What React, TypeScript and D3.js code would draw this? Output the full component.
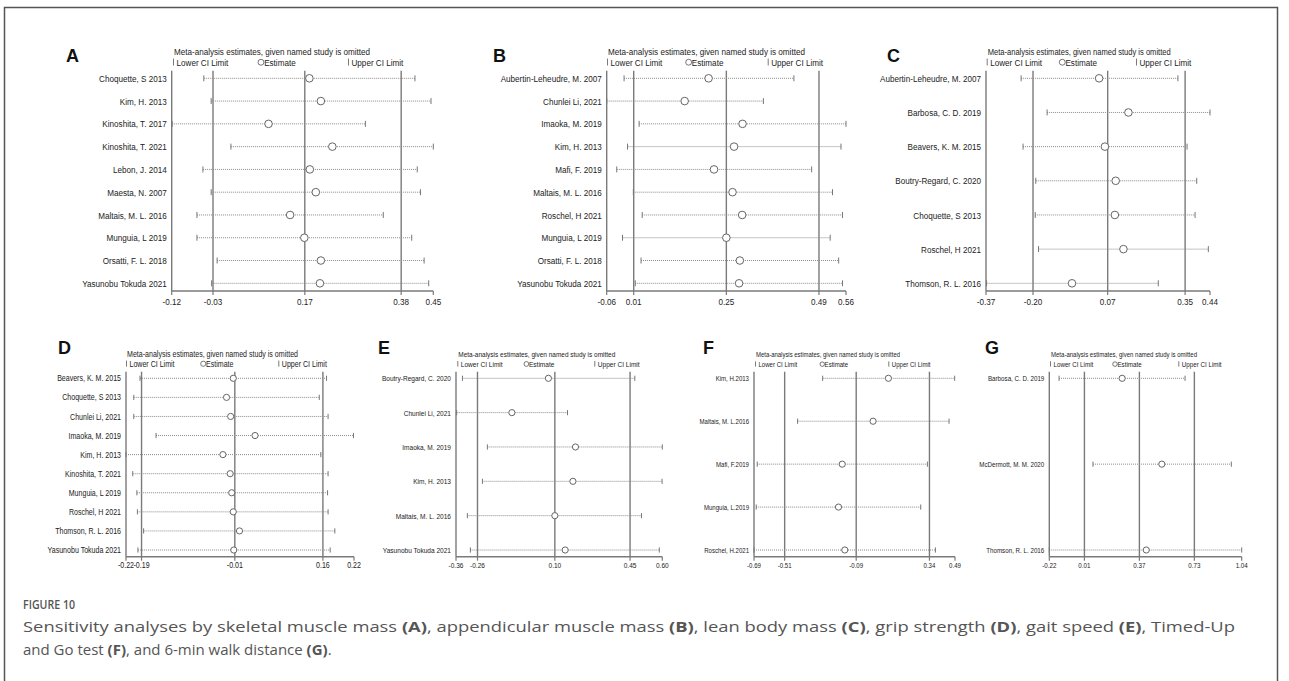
import React from "react";
import * as d3 from "d3";

// ---------- DATA ----------
const A_STUDIES = ["Choquette, S 2013", "Kim, H. 2013", "Kinoshita, T. 2017", "Kinoshita, T. 2021", "Lebon, J. 2014", "Maesta, N. 2007", "Maltais, M. L. 2016", "Munguia, L 2019", "Orsatti, F. L. 2018", "Yasunobu Tokuda 2021"];
const A_LOWER = [-0.05, -0.034, -0.119, 0.009, -0.052, -0.034, -0.065, -0.065, -0.021, -0.033];
const A_EST = [0.18, 0.205, 0.091, 0.23, 0.181, 0.194, 0.138, 0.169, 0.205, 0.203];
const A_UPPER = [0.41, 0.445, 0.302, 0.45, 0.415, 0.422, 0.341, 0.403, 0.43, 0.44];
const A_TICKS = [-0.12, -0.03, 0.17, 0.38, 0.45];

const B_STUDIES = ["Aubertin-Leheudre, M. 2007", "Chunlei Li, 2021", "Imaoka, M. 2019", "Kim, H. 2013", "Mafi, F. 2019", "Maltais, M. L. 2016", "Roschel, H 2021", "Munguia, L 2019", "Orsatti, F. L. 2018", "Yasunobu Tokuda 2021"];
const B_LOWER = [-0.015, -0.06, 0.024, -0.006, -0.034, 0.009, 0.032, -0.019, 0.029, 0.014];
const B_EST = [0.204, 0.142, 0.292, 0.27, 0.218, 0.266, 0.291, 0.25, 0.285, 0.283];
const B_UPPER = [0.425, 0.346, 0.56, 0.547, 0.471, 0.525, 0.551, 0.519, 0.541, 0.551];
const B_TICKS = [-0.06, 0.01, 0.25, 0.49, 0.56];

const C_STUDIES = ["Aubertin-Leheudre, M. 2007", "Barbosa, C. D. 2019", "Beavers, K. M. 2015", "Boutry-Regard, C. 2020", "Choquette, S 2013", "Roschel, H 2021", "Thomson, R. L. 2016"];
const C_LOWER = [-0.243, -0.149, -0.236, -0.19, -0.192, -0.18, -0.368];
const C_EST = [0.039, 0.145, 0.06, 0.099, 0.096, 0.127, -0.059];
const C_UPPER = [0.324, 0.44, 0.357, 0.392, 0.386, 0.434, 0.253];
const C_TICKS = [-0.37, -0.2, 0.07, 0.35, 0.44];

const D_STUDIES = ["Beavers, K. M. 2015", "Choquette, S 2013", "Chunlei Li, 2021", "Imaoka, M. 2019", "Kim, H. 2013", "Kinoshita, T. 2021", "Munguia, L 2019", "Roschel, H 2021", "Thomson, R. L. 2016", "Yasunobu Tokuda 2021"];
const D_LOWER = [-0.193, -0.205, -0.205, -0.162, -0.22, -0.207, -0.199, -0.198, -0.186, -0.197];
const D_EST = [-0.013, -0.026, -0.018, 0.029, -0.033, -0.019, -0.016, -0.013, -0.001, -0.012];
const D_UPPER = [0.167, 0.153, 0.17, 0.219, 0.156, 0.17, 0.169, 0.17, 0.183, 0.174];
const D_TICKS = [-0.22, -0.19, -0.01, 0.16, 0.22];

const E_STUDIES = ["Boutry-Regard, C. 2020", "Chunlei Li, 2021", "Imaoka, M. 2019", "Kim, H. 2013", "Maltais, M. L. 2016", "Yasunobu Tokuda 2021"];
const E_LOWER = [-0.33, -0.357, -0.214, -0.237, -0.307, -0.293];
const E_EST = [0.07, -0.1, 0.196, 0.184, 0.1, 0.148];
const E_UPPER = [0.472, 0.159, 0.6, 0.599, 0.503, 0.586];
const E_TICKS = [-0.36, -0.26, 0.1, 0.45, 0.6];

const F_STUDIES = ["Kim, H.2013", "Maltais, M. L.2016", "Mafi, F.2019", "Munguia, L.2019", "Roschel, H.2021"];
const F_LOWER = [-0.287, -0.434, -0.671, -0.677, -0.69];
const F_EST = [0.099, 0.009, -0.172, -0.194, -0.157];
const F_UPPER = [0.488, 0.455, 0.328, 0.289, 0.375];
const F_TICKS = [-0.69, -0.51, -0.09, 0.34, 0.49];

const G_STUDIES = ["Barbosa, C. D. 2019", "McDermott, M. M. 2020", "Thomson, R. L. 2016"];
const G_LOWER = [-0.156, 0.066, -0.22];
const G_EST = [0.257, 0.517, 0.415];
const G_UPPER = [0.669, 0.972, 1.04];
const G_TICKS = [-0.22, 0.01, 0.37, 0.73, 1.04];

const TITLE = "Meta-analysis estimates, given named study is omitted";
const CAPTION_HEAD = "FIGURE 10";

// ---------- LAYOUT ----------
const TOP = { rowTop: 78.3, rowBottom: 283.3, axisY: 291, lineTop: 70.7, letterY: 62, titleY: 55, legendY: 65.5, tickY: 305, cap: 3, r: 3.8 };
const BOT = { rowTop: 378.3, rowBottom: 550, axisY: 556.7, lineTop: 371.7, letterY: 354, titleY: 357.2, legendY: 366.6, tickY: 568, cap: 2.6, r: 3.1 };

const PANELS = [
  { letter: "A", studies: A_STUDIES, lower: A_LOWER, est: A_EST, upper: A_UPPER, ticks: A_TICKS, g: TOP, x0: 171.7, x1: 433.3, lx: 66, titleW: 196, leg: [173, 258, 348], fs: 9.9 },
  { letter: "B", studies: B_STUDIES, lower: B_LOWER, est: B_EST, upper: B_UPPER, ticks: B_TICKS, g: TOP, x0: 606.7, x1: 846, lx: 493, titleW: 197, leg: [607, 685.7, 767.7], fs: 9.9 },
  { letter: "C", studies: C_STUDIES, lower: C_LOWER, est: C_EST, upper: C_UPPER, ticks: C_TICKS, g: TOP, x0: 986, x1: 1210, lx: 887, titleW: 183, leg: [986.7, 1059.3, 1136], fs: 9.9 },
  { letter: "D", studies: D_STUDIES, lower: D_LOWER, est: D_EST, upper: D_UPPER, ticks: D_TICKS, g: BOT, x0: 126, x1: 354, lx: 58, titleW: 171, leg: [126, 200.7, 278.3], fs: 8.6 },
  { letter: "E", studies: E_STUDIES, lower: E_LOWER, est: E_EST, upper: E_UPPER, ticks: E_TICKS, g: BOT, x0: 456, x1: 662.3, lx: 378, titleW: 157, leg: [457.3, 524, 594.3], fs: 8.0 },
  { letter: "F", studies: F_STUDIES, lower: F_LOWER, est: F_EST, upper: F_UPPER, ticks: F_TICKS, g: BOT, x0: 754, x1: 955, lx: 703, titleW: 144, leg: [755, 820, 888.3], fs: 7.4 },
  { letter: "G", studies: G_STUDIES, lower: G_LOWER, est: G_EST, upper: G_UPPER, ticks: G_TICKS, g: BOT, x0: 1049.3, x1: 1241.7, lx: 985, titleW: 146, leg: [1050, 1112.7, 1178.3], fs: 7.6 },
];

const SANS = "'Liberation Sans', Arial, sans-serif";
const SX = 0.82; // condensed look of the original figure font
const LINE = "#7a7a7a";
const TXT = "#222";

function NT({ x, y, fs, anchor, children }: { x: number; y: number; fs: number; anchor?: string; children: any }) {
  return (
    <text transform={`translate(${x},${y}) scale(${SX},1)`} textAnchor={anchor || "start"} fontFamily={SANS} fontSize={fs} fill={TXT}>
      {children}
    </text>
  );
}

function Panel({ p }: { p: any }) {
  const g = p.g;
  const x = d3.scaleLinear().domain([p.ticks[0], p.ticks[p.ticks.length - 1]]).range([p.x0, p.x1]);
  const y = d3.scalePoint<string>().domain(p.studies).range([g.rowTop, g.rowBottom]);
  const fs = p.fs;
  return (
    <g>
      <text x={p.lx} y={g.letterY} fontFamily={SANS} fontWeight="bold" fontSize={18} fill="#111">{p.letter}</text>
      <text x={p.leg[0] + 1} y={g.titleY} fontFamily={SANS} fontSize={fs} fill={TXT} textLength={p.titleW} lengthAdjust="spacingAndGlyphs">{TITLE}</text>
      {/* legend */}
      <line x1={p.leg[0] + 0.5} x2={p.leg[0] + 0.5} y1={g.legendY - fs * 0.7} y2={g.legendY} stroke={LINE} strokeWidth={1} />
      <NT x={p.leg[0] + 3.5} y={g.legendY} fs={fs}>Lower CI Limit</NT>
      <circle cx={p.leg[1] + fs * 0.3} cy={g.legendY - fs * 0.33} r={fs * 0.3} fill="none" stroke="#555" strokeWidth={0.8} />
      <NT x={p.leg[1] + fs * 0.62} y={g.legendY} fs={fs}>Estimate</NT>
      <line x1={p.leg[2] + 0.5} x2={p.leg[2] + 0.5} y1={g.legendY - fs * 0.7} y2={g.legendY} stroke={LINE} strokeWidth={1} />
      <NT x={p.leg[2] + 3.5} y={g.legendY} fs={fs}>Upper CI Limit</NT>

      {/* y axis line and reference lines */}
      {p.ticks.slice(0, 4).map((t: number, i: number) => (
        <line key={"v" + i} x1={x(t)} x2={x(t)} y1={g.lineTop} y2={g.axisY} stroke={LINE} strokeWidth={1.4} />
      ))}
      {/* x axis */}
      <line x1={p.x0} x2={p.x1} y1={g.axisY} y2={g.axisY} stroke={LINE} strokeWidth={1.4} />
      {p.ticks.map((t: number, i: number) => (
        <g key={"t" + i}>
          <line x1={x(t)} x2={x(t)} y1={g.axisY} y2={g.axisY + 4} stroke={LINE} strokeWidth={1.2} />
          <NT x={x(t)} y={g.tickY} fs={fs} anchor="middle">{t.toFixed(2)}</NT>
        </g>
      ))}

      {/* rows */}
      {p.studies.map((s: string, i: number) => {
        const yy = y(s) as number;
        return (
          <g key={s + i}>
            <NT x={p.x0 - 5} y={yy + fs * 0.36} fs={fs} anchor="end">{s}</NT>
            <line x1={x(p.lower[i])} x2={x(p.upper[i])} y1={yy} y2={yy} stroke="#8a8a8a" strokeWidth={1} strokeDasharray="1,1" />
            <line x1={x(p.lower[i])} x2={x(p.lower[i])} y1={yy - g.cap} y2={yy + g.cap} stroke="#777" strokeWidth={1} />
            <line x1={x(p.upper[i])} x2={x(p.upper[i])} y1={yy - g.cap} y2={yy + g.cap} stroke="#777" strokeWidth={1} />
            <circle cx={x(p.est[i])} cy={yy} r={g.r} fill="#fff" stroke="#666" strokeWidth={1} />
          </g>
        );
      })}
    </g>
  );
}

export default function App() {
  const CAP = "'Open Sans', 'Noto Sans', sans-serif";
  return (
    <svg width={1289} height={681} style={{ position: "absolute", left: 0, top: 0, background: "#fff" }}>
      <rect x={0} y={0} width={1289} height={681} fill="#fff" />
      <path d="M4.5,681 V7.5 H1277.5 V681" fill="none" stroke="#555" strokeWidth={1.5} />
      {PANELS.map((p) => (
        <Panel key={p.letter} p={p} />
      ))}
      <text x={23} y={609} fontFamily={CAP} fontWeight={600} fontSize={12} fill="#555" textLength={52} lengthAdjust="spacingAndGlyphs">{CAPTION_HEAD}</text>
      <text x={23} y={632} fontFamily={CAP} fontSize={15} fill="#555" textLength={1212} lengthAdjust="spacingAndGlyphs">
        Sensitivity analyses by skeletal muscle mass <tspan fontWeight="bold">(A)</tspan>, appendicular muscle mass <tspan fontWeight="bold">(B)</tspan>, lean body mass <tspan fontWeight="bold">(C)</tspan>, grip strength <tspan fontWeight="bold">(D)</tspan>, gait speed <tspan fontWeight="bold">(E)</tspan>, Timed-Up
      </text>
      <text x={23} y={655} fontFamily={CAP} fontSize={15} fill="#555">
        and Go test <tspan fontWeight="bold">(F)</tspan>, and 6-min walk distance <tspan fontWeight="bold">(G)</tspan>.
      </text>
    </svg>
  );
}
